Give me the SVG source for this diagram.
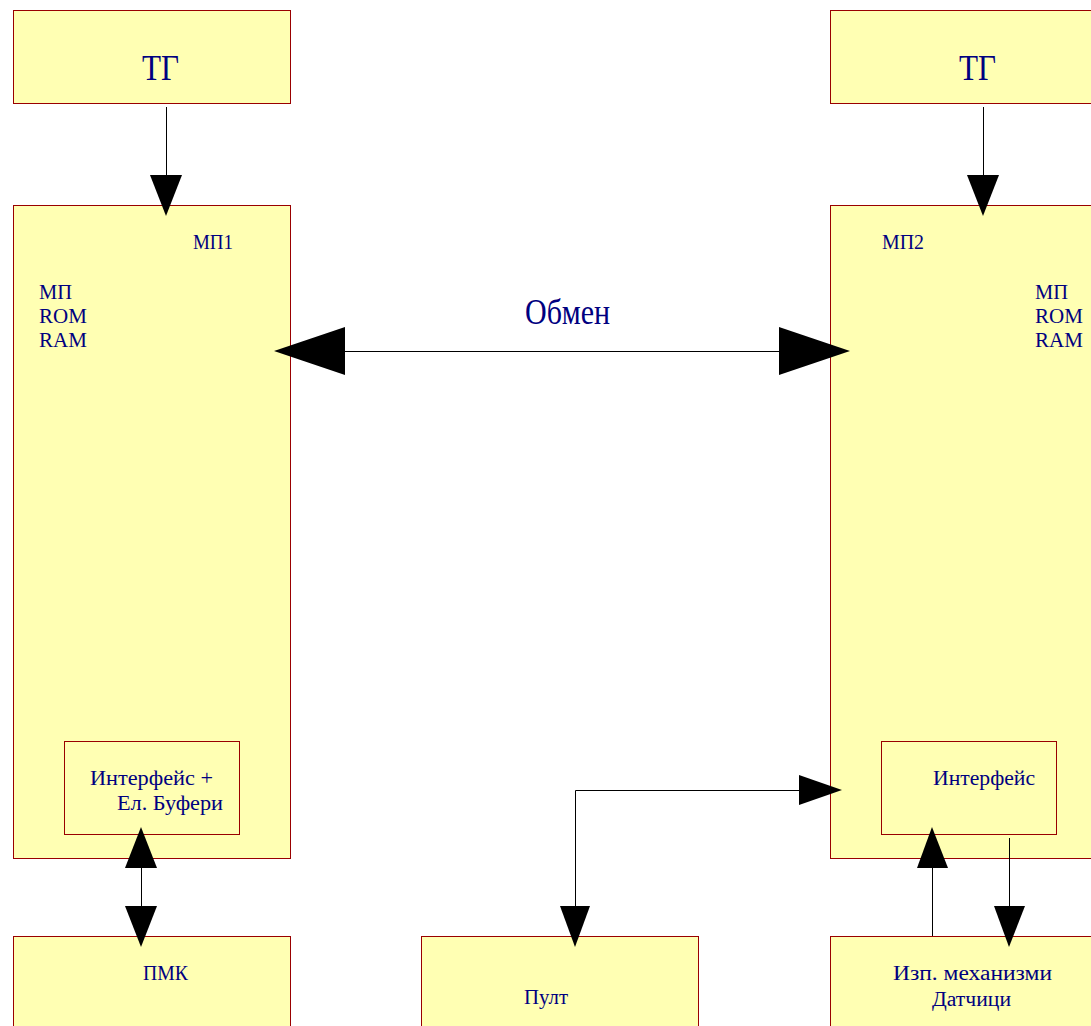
<svg xmlns="http://www.w3.org/2000/svg" width="1091" height="1026" viewBox="0 0 1091 1026">
<style>
.box{fill:#FFFFB3;stroke:#990000;stroke-width:1}
.t{font-family:"Liberation Serif","Times New Roman",serif;fill:#000080;font-size:21px}
.s{font-size:20px}
.big{font-size:36px}
.ob{font-size:35px}
.c{fill:none;stroke:#000;stroke-width:1}
.h{fill:#000;stroke:none}
</style>
<rect width="1091" height="1026" fill="#fff"/>
<g id="tg1"><rect class="box" x="13.5" y="10.5" width="277" height="93"/><text class="t big" x="142" y="80" textLength="37" lengthAdjust="spacingAndGlyphs">ТГ</text></g>
<g id="tg2"><rect class="box" x="830.5" y="10.5" width="277" height="93"/><text class="t big" x="959" y="80" textLength="37" lengthAdjust="spacingAndGlyphs">ТГ</text></g>
<g id="mp1"><rect class="box" x="13.5" y="205.5" width="277" height="653"/>
<text class="t" x="193" y="249" textLength="40" lengthAdjust="spacingAndGlyphs">МП1</text>
<text class="t" x="39" y="299" textLength="33" lengthAdjust="spacingAndGlyphs">МП</text>
<text class="t" x="39" y="323">ROM</text>
<text class="t" x="39" y="347">RAM</text></g>
<g id="mp2"><rect class="box" x="830.5" y="205.5" width="277" height="653"/>
<text class="t" x="882" y="249" textLength="42" lengthAdjust="spacingAndGlyphs">МП2</text>
<text class="t" x="1035" y="299" textLength="33" lengthAdjust="spacingAndGlyphs">МП</text>
<text class="t" x="1035" y="323">ROM</text>
<text class="t" x="1035" y="347">RAM</text></g>
<g id="if1"><rect class="box" x="64.5" y="741.5" width="175" height="93"/>
<text class="t s" x="90" y="785" textLength="123" lengthAdjust="spacingAndGlyphs">Интерфейс +</text>
<text class="t s" x="117" y="810" textLength="106" lengthAdjust="spacingAndGlyphs">Ел. Буфери</text></g>
<g id="if2"><rect class="box" x="881.5" y="741.5" width="175" height="93"/>
<text class="t s" x="933" y="785" textLength="102" lengthAdjust="spacingAndGlyphs">Интерфейс</text></g>
<g id="pmk"><rect class="box" x="13.5" y="936.5" width="277" height="100"/><text class="t s" x="143" y="980" textLength="45" lengthAdjust="spacingAndGlyphs">ПМК</text></g>
<g id="pult"><rect class="box" x="421.5" y="936.5" width="277" height="100"/><text class="t s" x="524" y="1004" textLength="44" lengthAdjust="spacingAndGlyphs">Пулт</text></g>
<g id="izp"><rect class="box" x="830.5" y="936.5" width="277" height="100"/>
<text class="t s" x="893" y="980" textLength="159" lengthAdjust="spacingAndGlyphs">Изп. механизми</text>
<text class="t s" x="932" y="1006" textLength="79" lengthAdjust="spacingAndGlyphs">Датчици</text></g>
<g id="obmen-label"><text class="t ob" x="525" y="324" textLength="85" lengthAdjust="spacingAndGlyphs">Обмен</text></g>
<g id="connectors">
<line class="c" x1="166.5" y1="107" x2="166.5" y2="176"/><polygon class="h" points="150,175 182,175 166,216"/>
<line class="c" x1="983.5" y1="107" x2="983.5" y2="176"/><polygon class="h" points="967,175 999,175 983,216"/>
<line class="c" x1="344" y1="351.5" x2="780" y2="351.5"/>
<polygon class="h" points="274,351 345,327 345,375"/>
<polygon class="h" points="850,351 779,327 779,375"/>
<line class="c" x1="141.5" y1="866" x2="141.5" y2="908"/>
<polygon class="h" points="141,827 125,868 157,868"/>
<polygon class="h" points="141,947 125,906 157,906"/>
<polyline class="c" points="575.5,908 575.5,790.5 800,790.5"/>
<polygon class="h" points="575,947 560,906 590,906"/>
<polygon class="h" points="842,790 799,775 799,805"/>
<line class="c" x1="932.5" y1="866" x2="932.5" y2="936"/>
<polygon class="h" points="932,827 917,868 948,868"/>
<line class="c" x1="1009.5" y1="838" x2="1009.5" y2="908"/>
<polygon class="h" points="1009,947 994,906 1025,906"/>
</g>
</svg>
